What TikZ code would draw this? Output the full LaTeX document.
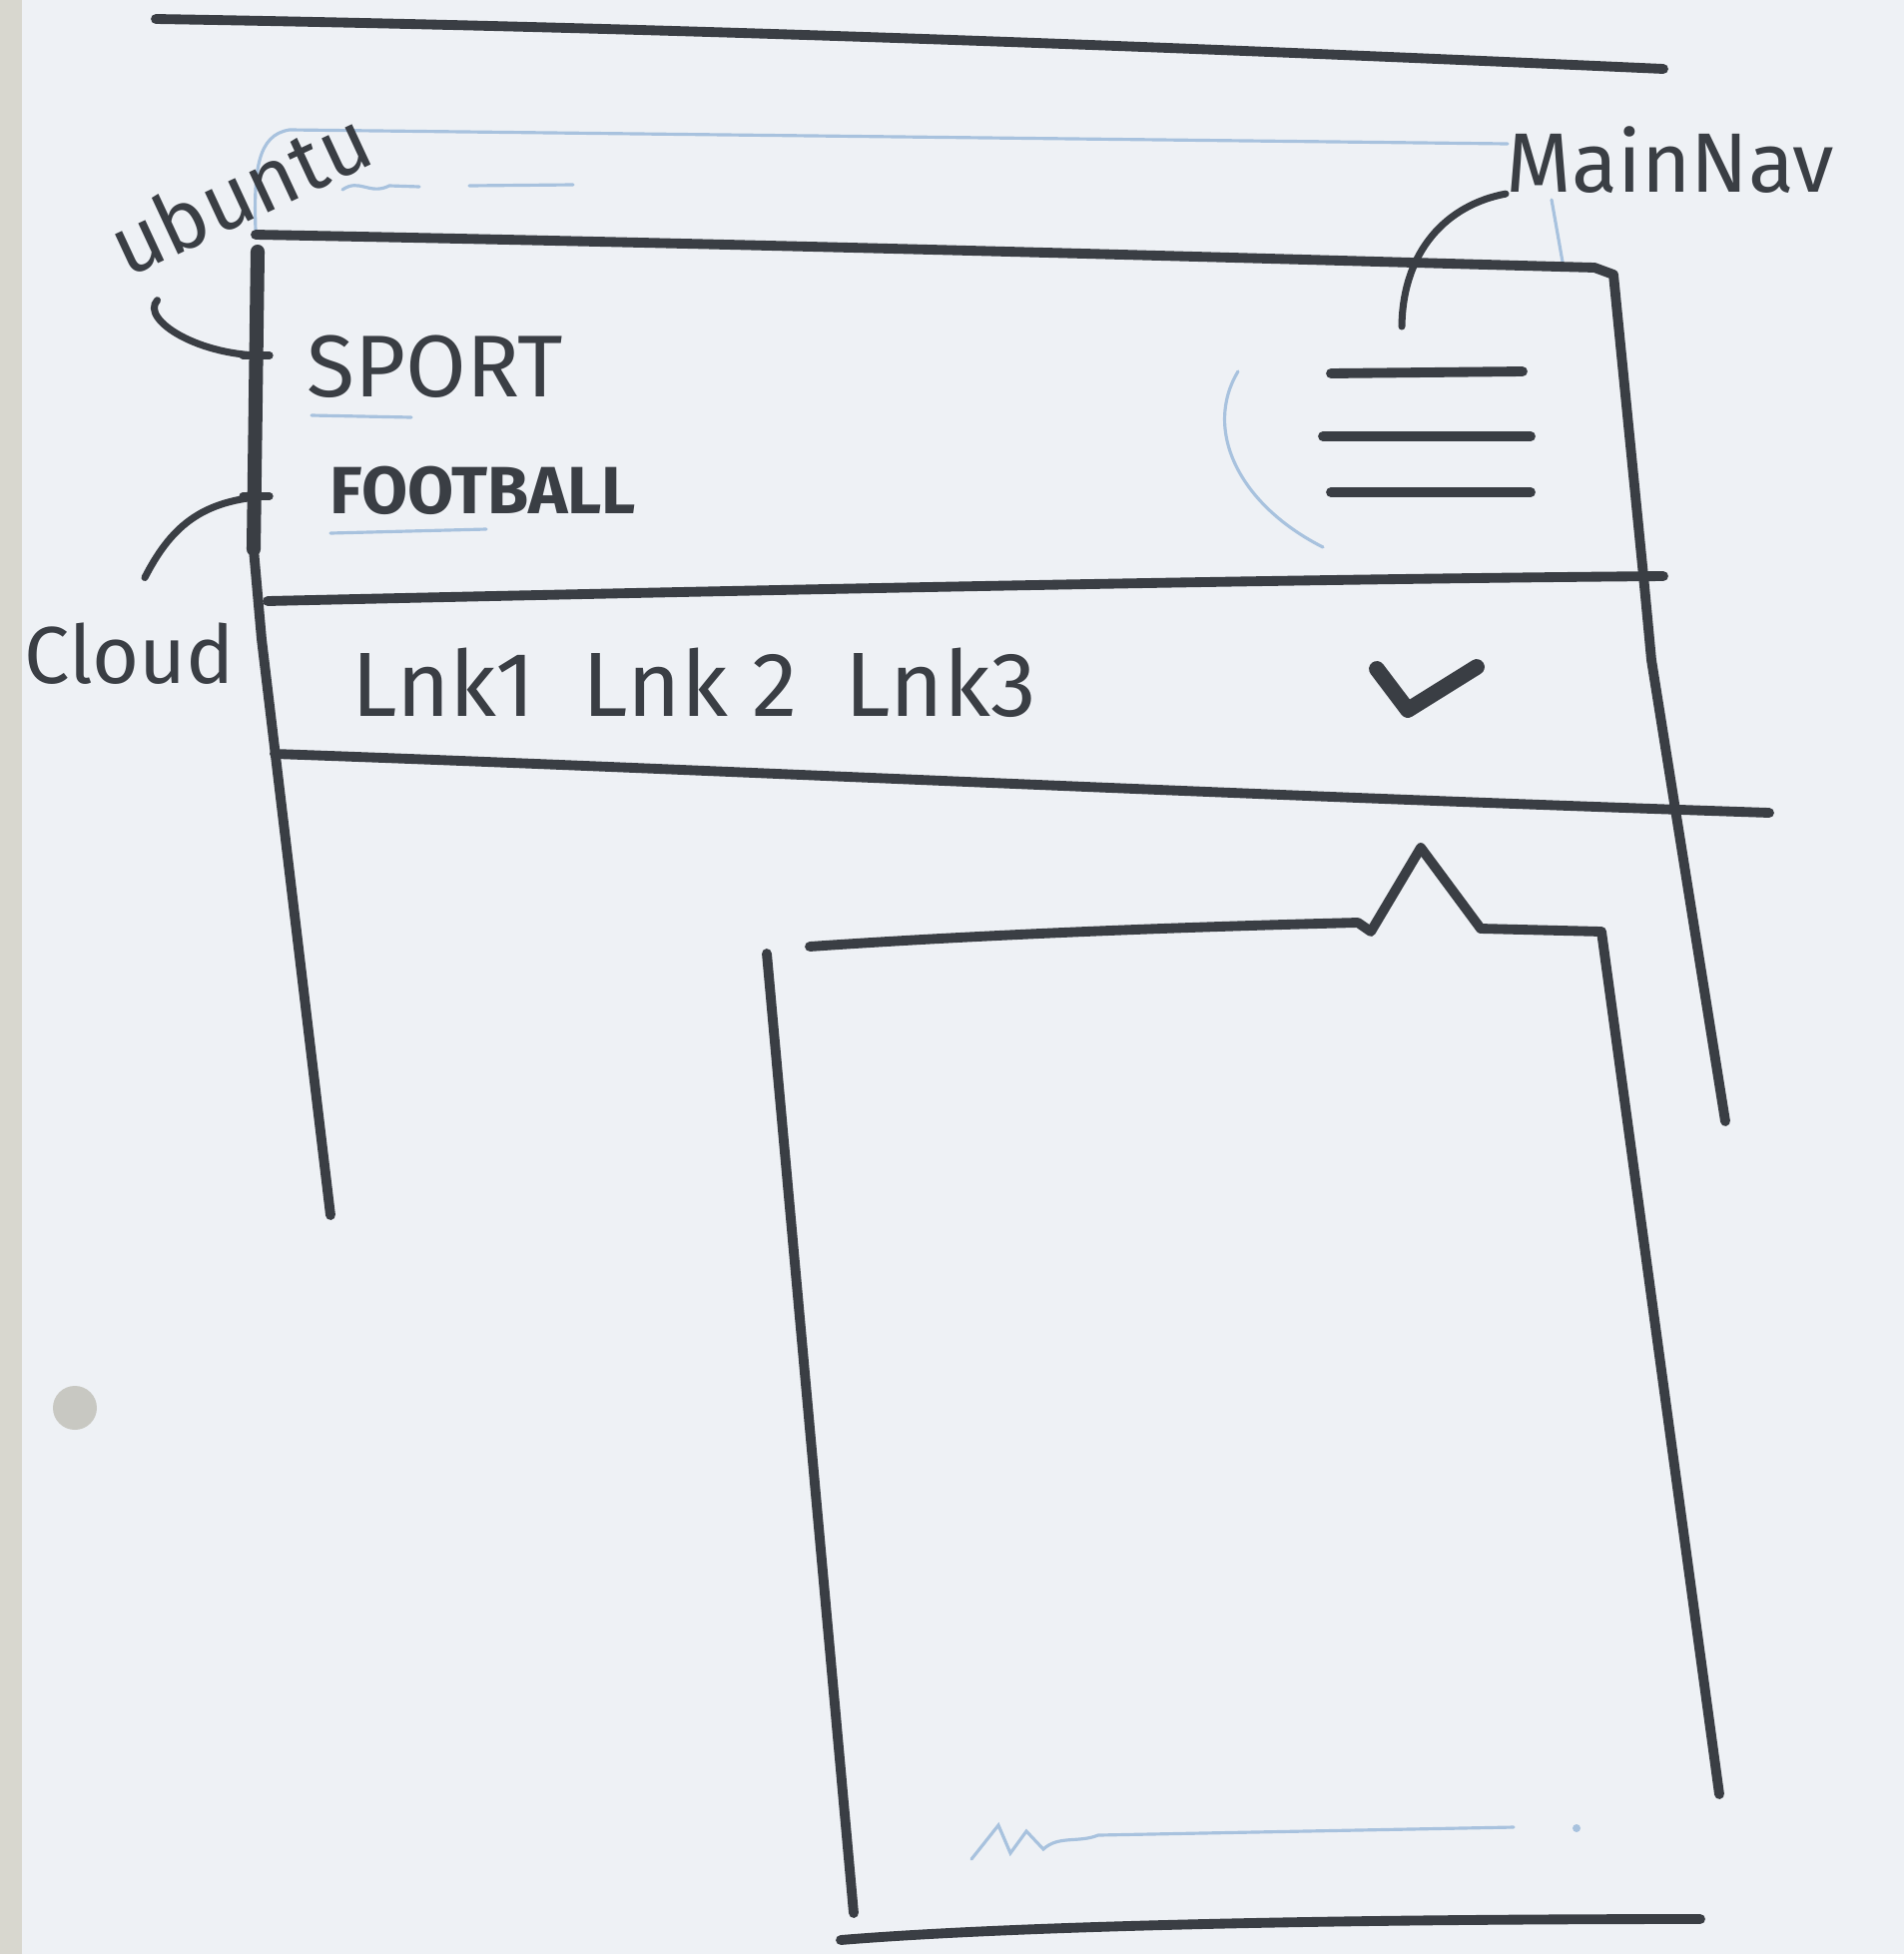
\documentclass[tikz,border=0pt]{standalone}
\usepackage{fontspec}
\setsansfont{Fira Sans}
\usepackage{xcolor}
\definecolor{paper}{HTML}{EEF1F5}
\definecolor{paperedge}{HTML}{D8D7CF}
\definecolor{punch}{HTML}{C8C8C2}
\definecolor{ink}{HTML}{3A3E44}
\definecolor{pencil}{HTML}{A8C2DE}

\begin{document}
\begin{tikzpicture}[x=0.01cm,y=-0.01cm,font=\sffamily,text=ink,
  inkline/.style={draw=ink,line width=2.8pt,line cap=round,line join=round},
  thinink/.style={draw=ink,line width=2pt,line cap=round},
  pencilline/.style={draw=pencil,line width=0.9pt,line cap=round},
  note/.style={inner sep=0pt,font=\sffamily\fontsize{24}{24}\selectfont}]
  \def\pagewidth{1907}
  \def\pageheight{1957}

  % sheet
  \useasboundingbox (0,0) rectangle (\pagewidth,\pageheight);
  \fill[paper] (0,0) rectangle (\pagewidth,\pageheight);
  \fill[paperedge] (0,0) rectangle (22,\pageheight);
  \fill[punch] (75,1410) circle (22);

  % header rule and pencil frame
  \draw[inkline] (156,19) .. controls (700,28) and (1200,48) .. (1666,69);
  \draw[pencilline] (256,231) .. controls (254,170) and (258,135) .. (290,130) -- (1510,144);
  \draw[pencilline] (1554,200) -- (1566,268);
  \draw[pencilline] (343,190) .. controls (360,178) and (370,196) .. (390,186) -- (420,187);
  \draw[pencilline] (470,186) -- (574,185);

  % phone frame
  \draw[inkline] (256,235) .. controls (800,245) and (1300,260) .. (1597,268)
    -- (1616,275) -- (1647,587) -- (1654,661) -- (1728,1123);
  \draw[ink,line width=4pt,line cap=round] (258,252) -- (254,550);
  \draw[inkline] (254,550) -- (262,640) -- (331,1217);

  % header content
  \node[inner sep=0pt,font=\sffamily\fontsize{25}{25}\selectfont] (sport) at (436,367) {SPORT};
  \node[inner sep=0pt,font=\sffamily\fontsize{19}{19}\selectfont\bfseries] (football) at (484,491) {FOOTBALL};
  \draw[pencilline] (312,416) -- (412,418);
  \draw[pencilline] (331,534) -- (487,530);

  \foreach \ya/\xa/\yb/\xb in {374/1333/372/1525, 437/1325/437/1533, 493/1333/493/1533}
    \draw[inkline] (\xa,\ya) -- (\xb,\yb);
  \coordinate (navtip) at (1404,327);
  \draw[pencilline] (1240,372) .. controls (1205,430) and (1240,505) .. (1325,548);

  \draw[inkline] (268,602) .. controls (800,590) and (1300,580) .. (1666,577);

  % link bar
  \node[inner sep=0pt,font=\sffamily\fontsize{26}{26}\selectfont] (links) at (695,684) {Lnk1\ \ Lnk 2\ \ Lnk3};
  \draw[ink,line width=4.5pt,line cap=round,line join=round] (1379,670) -- (1410,711) -- (1479,668);
  \draw[inkline] (275,755) .. controls (700,770) and (1200,795) .. (1772,814);

  % annotations
  \coordinate (tickA) at (270,356);
  \coordinate (tickB) at (270,497);
  \draw[thinink] (243,356) -- (tickA);
  \draw[thinink] (243,497) -- (tickB);
  \node[note,rotate=25] (ubuntu) at (240,192) {ubuntu};
  \node[note,font=\sffamily\fontsize{23}{23}\selectfont] (cloud) at (130,655) {Cloud};
  \node[note,anchor=west] (mainnav) at (1508,160) {MainNav};
  \draw[thinink] ([shift={(30,20)}]ubuntu.south west) .. controls (140,320) and (200,358) .. (tickA);
  \draw[thinink] ([shift={(15,-45)}]cloud.north) .. controls (170,530) and (200,500) .. (tickB);
  \draw[thinink] (navtip) .. controls (1405,250) and (1450,205) .. (mainnav.south west);

  % dropdown panel
  \draw[inkline] (768,955) -- (855,1916);
  \draw[inkline] (811,948) .. controls (1000,935) and (1200,928) .. (1360,924)
    -- (1373,933) -- (1423,849) -- (1483,930) -- (1604,933) -- (1722,1797);
  \draw[inkline] (842,1943) .. controls (1000,1930) and (1300,1922) .. (1703,1922);
  \draw[pencilline] (973,1862) -- (1000,1828) -- (1012,1856) -- (1028,1834) -- (1045,1852)
    .. controls (1060,1838) and (1080,1846) .. (1100,1838) -- (1516,1830);
  \fill[pencil] (1579,1831) circle (4);
\end{tikzpicture}
\end{document}
